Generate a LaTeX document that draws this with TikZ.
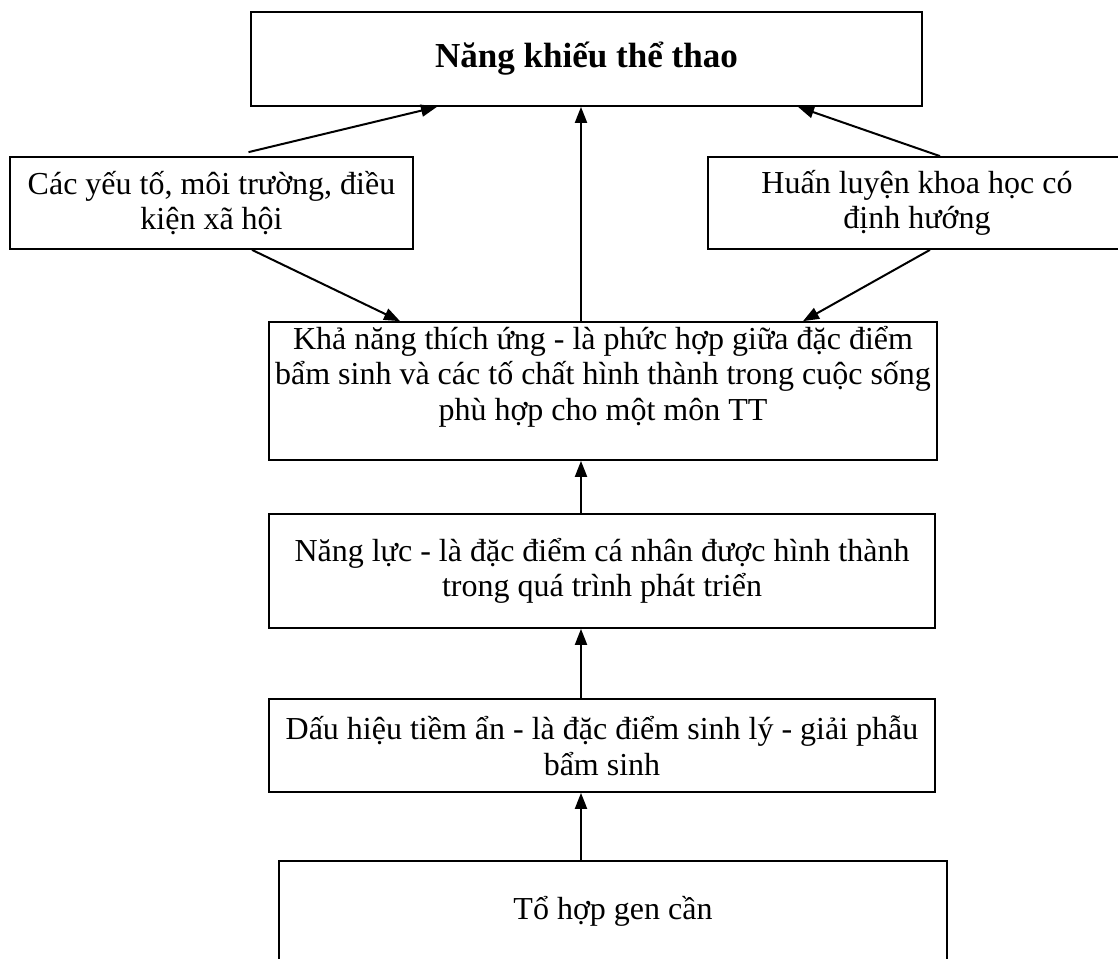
\documentclass[tikz,border=0pt]{standalone}
\usepackage{fontspec}
\setmainfont{Liberation Serif}
\usetikzlibrary{arrows.meta,calc}
\begin{document}
\begin{tikzpicture}[x=0.75pt,y=-0.75pt,
  box/.style={draw,line width=1.3pt,rectangle,inner sep=0pt,align=center,
    font=\fontsize{24}{26.7}\selectfont},
  arr/.style={line width=1.5pt,-{Triangle[length=12pt,width=9pt]}}]
\useasboundingbox (0,0) rectangle (1118,958);
\node[box,minimum width=671*0.75pt,minimum height=94*0.75pt] (top) at (586.5,59) {\fontsize{26.3}{30}\selectfont\bfseries Năng khiếu thể thao};
\node[box,minimum width=403*0.75pt,minimum height=92*0.75pt] (left) at (211.5,203) {Các yếu tố, môi trường, điều\\kiện xã hội};
\node[box,minimum width=418*0.75pt,minimum height=92*0.75pt] (right) at (917,203) {Huấn luyện khoa học có\\định hướng};
\node[box,minimum width=668*0.75pt,minimum height=138*0.75pt] (mid) at (603,391) {Khả năng thích ứng - là phức hợp giữa đặc điểm\\bẩm sinh và các tố chất hình thành trong cuộc sống\\phù hợp cho một môn TT\\~};
\node[box,minimum width=666*0.75pt,minimum height=114*0.75pt] (nl) at (602,571) {Năng lực - là đặc điểm cá nhân được hình thành\\trong quá trình phát triển};
\node[box,minimum width=666*0.75pt,minimum height=93*0.75pt] (dh) at (602,745.5) {Dấu hiệu tiềm ẩn - là đặc điểm sinh lý - giải phẫu\\bẩm sinh};
\node[box,minimum width=668*0.75pt,minimum height=101*0.75pt] (th) at (613,911.5) {Tổ hợp gen cần};
\coordinate (ax) at (581,0);
\draw[arr] ($(left.north)+(37,-4)$) -- ($(top.south)+(-149.5,0)$);
\draw[arr] ($(right.north)+(23,0)$) -- ($(top.south)+(211.5,0)$);
\draw[arr] ($(left.south)+(40.5,0)$) -- ($(mid.north)+(-203,0)$);
\draw[arr] ($(right.south)+(13,0)$) -- ($(mid.north)+(200,0)$);
\draw[arr] (mid.north -| ax) -- (top.south -| ax);
\draw[arr] (nl.north -| ax) -- (mid.south -| ax);
\draw[arr] (dh.north -| ax) -- (nl.south -| ax);
\draw[arr] (th.north -| ax) -- (dh.south -| ax);
\end{tikzpicture}
\end{document}
